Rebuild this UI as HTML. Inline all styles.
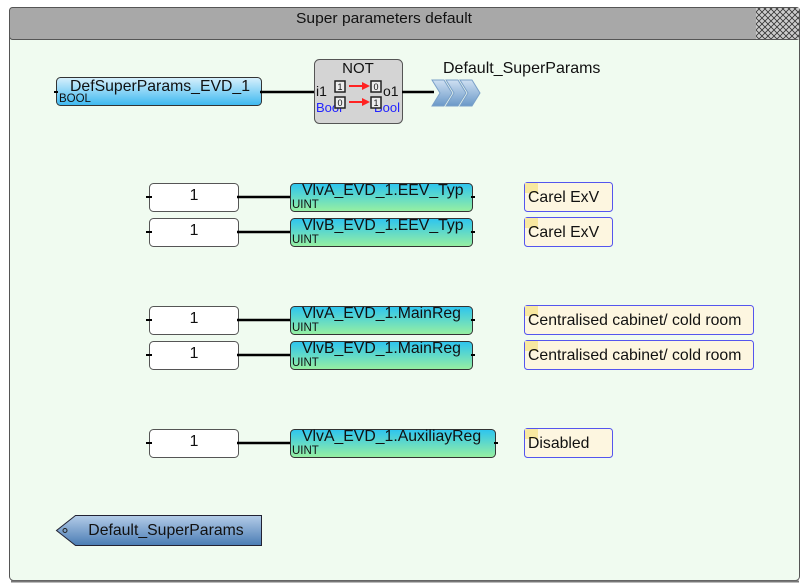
<!DOCTYPE html>
<html><head><meta charset="utf-8"><style>
html,body{margin:0;padding:0;background:#fff;width:808px;height:588px;overflow:hidden}
text{font-family:"Liberation Sans",sans-serif}
</style></head><body>
<svg width="808" height="588" xmlns="http://www.w3.org/2000/svg">
<defs>
<linearGradient id="gb" x1="0" y1="0" x2="0" y2="1"><stop offset="0" stop-color="#d8f0fc"/><stop offset="1" stop-color="#3cb8f0"/></linearGradient>
<linearGradient id="gv" x1="0" y1="0" x2="0" y2="1"><stop offset="0" stop-color="#2cc4f0"/><stop offset="1" stop-color="#98f0a0"/></linearGradient>
<linearGradient id="gc" x1="0" y1="0" x2="0" y2="1"><stop offset="0" stop-color="#b4cce8"/><stop offset="1" stop-color="#4a7cb4"/></linearGradient>
<linearGradient id="gch" x1="0" y1="0" x2="0" y2="1"><stop offset="0" stop-color="#cfe0f2"/><stop offset="1" stop-color="#6a98c8"/></linearGradient>
<pattern id="hatch" width="6" height="6" patternUnits="userSpaceOnUse"><rect width="6" height="6" fill="#ccc"/><path d="M0 0L6 6M6 0L0 6" stroke="#333" stroke-width="0.8"/></pattern>
</defs>
<rect x="9.5" y="7.5" width="790" height="573" rx="4" fill="#f0fbf0" stroke="#555"/>
<line x1="11" y1="581.5" x2="799" y2="581.5" stroke="#777" stroke-width="2"/>
<rect x="9.5" y="7.5" width="790" height="32" rx="3" fill="#a8a8a8" stroke="#555"/>
<rect x="756" y="8" width="43" height="31" fill="url(#hatch)"/>
<text x="384" y="23" font-size="15" text-anchor="middle" fill="#111" textLength="176" lengthAdjust="spacingAndGlyphs">Super parameters default</text>

<g font-size="15.8" fill="#111">
<rect x="56.5" y="77.5" width="205" height="28" rx="4" fill="url(#gb)" stroke="#333"/>
<text x="70" y="91">DefSuperParams_EVD_1</text>
<text x="59" y="102" font-size="11.5">BOOL</text>
<line x1="54" y1="92" x2="58" y2="92" stroke="#000" stroke-width="2"/>
<line x1="260" y1="92" x2="316" y2="92" stroke="#000" stroke-width="2.5"/>

<rect x="314.5" y="59.5" width="88" height="64" rx="5" fill="#d4d4d4" stroke="#555"/>
<text x="358" y="73" font-size="15" text-anchor="middle">NOT</text>
<text x="316" y="96" font-size="14">i1</text>
<text x="383" y="96" font-size="14">o1</text>
<text x="316" y="112" font-size="13" fill="#22f">Bool</text>
<text x="374" y="112" font-size="13" fill="#22f">Bool</text>
<rect x="335" y="81" width="10" height="11" fill="#eee" stroke="#222" stroke-width="1.5"/><rect x="335" y="97" width="10" height="11" fill="#eee" stroke="#222" stroke-width="1.5"/>
<rect x="371" y="81" width="10" height="11" fill="#eee" stroke="#222" stroke-width="1.5"/><rect x="371" y="97" width="10" height="11" fill="#eee" stroke="#222" stroke-width="1.5"/>
<text x="340" y="90" font-size="9" text-anchor="middle">1</text><text x="340" y="106" font-size="9" text-anchor="middle">0</text>
<text x="376" y="90" font-size="9" text-anchor="middle">0</text><text x="376" y="106" font-size="9" text-anchor="middle">1</text>
<path d="M349 86H365" stroke="#f22" stroke-width="2"/><path d="M362 82L370 86L362 90Z" fill="#f22"/>
<path d="M349 102H365" stroke="#f22" stroke-width="2"/><path d="M362 98L370 102L362 106Z" fill="#f22"/>
<line x1="402" y1="92" x2="434" y2="92" stroke="#000" stroke-width="2.5"/>
<g fill="url(#gch)" stroke="#7aa0c8">
<path d="M432 80H444L452 93L444 106H432L440 93Z"/>
<path d="M446 80H458L466 93L458 106H446L454 93Z"/>
<path d="M460 80H472L480 93L472 106H460L468 93Z"/>
</g>
<text x="443" y="73" font-size="16">Default_SuperParams</text>

<g>
<rect x="149.5" y="183.5" width="89" height="28" rx="4" fill="#fff" stroke="#555"/>
<text x="194" y="200" text-anchor="middle">1</text>
<line x1="146" y1="197" x2="152" y2="197" stroke="#000" stroke-width="2"/>
<line x1="237" y1="197" x2="292" y2="197" stroke="#000" stroke-width="2.5"/>
<rect x="290.5" y="183.5" width="182" height="28" rx="4" fill="url(#gv)" stroke="#333"/>
<text x="302" y="195">VlvA_EVD_1.EEV_Typ</text>
<text x="292" y="208" font-size="11.5">UINT</text>
<line x1="471" y1="197" x2="475" y2="197" stroke="#000" stroke-width="2"/>
<rect x="524.5" y="182.5" width="88" height="29" rx="3" fill="#fdf6e0" stroke="#5555ee"/>
<rect x="525" y="183" width="13" height="10" fill="#f8e8a0"/>
<text x="528" y="202">Carel ExV</text>
</g>
<g transform="translate(0,35)">
<rect x="149.5" y="183.5" width="89" height="28" rx="4" fill="#fff" stroke="#555"/>
<text x="194" y="200" text-anchor="middle">1</text>
<line x1="146" y1="197" x2="152" y2="197" stroke="#000" stroke-width="2"/>
<line x1="237" y1="197" x2="292" y2="197" stroke="#000" stroke-width="2.5"/>
<rect x="290.5" y="183.5" width="182" height="28" rx="4" fill="url(#gv)" stroke="#333"/>
<text x="302" y="195">VlvB_EVD_1.EEV_Typ</text>
<text x="292" y="208" font-size="11.5">UINT</text>
<line x1="471" y1="197" x2="475" y2="197" stroke="#000" stroke-width="2"/>
<rect x="524.5" y="182.5" width="88" height="29" rx="3" fill="#fdf6e0" stroke="#5555ee"/>
<rect x="525" y="183" width="13" height="10" fill="#f8e8a0"/>
<text x="528" y="202">Carel ExV</text>
</g>
<g transform="translate(0,123)">
<rect x="149.5" y="183.5" width="89" height="28" rx="4" fill="#fff" stroke="#555"/>
<text x="194" y="200" text-anchor="middle">1</text>
<line x1="146" y1="197" x2="152" y2="197" stroke="#000" stroke-width="2"/>
<line x1="237" y1="197" x2="292" y2="197" stroke="#000" stroke-width="2.5"/>
<rect x="290.5" y="183.5" width="182" height="28" rx="4" fill="url(#gv)" stroke="#333"/>
<text x="302" y="195">VlvA_EVD_1.MainReg</text>
<text x="292" y="208" font-size="11.5">UINT</text>
<line x1="471" y1="197" x2="475" y2="197" stroke="#000" stroke-width="2"/>
<rect x="524.5" y="182.5" width="229" height="29" rx="3" fill="#fdf6e0" stroke="#5555ee"/>
<rect x="525" y="183" width="13" height="10" fill="#f8e8a0"/>
<text x="528" y="202">Centralised cabinet/ cold room</text>
</g>
<g transform="translate(0,158)">
<rect x="149.5" y="183.5" width="89" height="28" rx="4" fill="#fff" stroke="#555"/>
<text x="194" y="200" text-anchor="middle">1</text>
<line x1="146" y1="197" x2="152" y2="197" stroke="#000" stroke-width="2"/>
<line x1="237" y1="197" x2="292" y2="197" stroke="#000" stroke-width="2.5"/>
<rect x="290.5" y="183.5" width="182" height="28" rx="4" fill="url(#gv)" stroke="#333"/>
<text x="302" y="195">VlvB_EVD_1.MainReg</text>
<text x="292" y="208" font-size="11.5">UINT</text>
<line x1="471" y1="197" x2="475" y2="197" stroke="#000" stroke-width="2"/>
<rect x="524.5" y="182.5" width="229" height="29" rx="3" fill="#fdf6e0" stroke="#5555ee"/>
<rect x="525" y="183" width="13" height="10" fill="#f8e8a0"/>
<text x="528" y="202">Centralised cabinet/ cold room</text>
</g>
<g transform="translate(0,246)">
<rect x="149.5" y="183.5" width="89" height="28" rx="4" fill="#fff" stroke="#555"/>
<text x="194" y="200" text-anchor="middle">1</text>
<line x1="146" y1="197" x2="152" y2="197" stroke="#000" stroke-width="2"/>
<line x1="237" y1="197" x2="292" y2="197" stroke="#000" stroke-width="2.5"/>
<rect x="290.5" y="183.5" width="205" height="28" rx="4" fill="url(#gv)" stroke="#333"/>
<text x="302" y="195">VlvA_EVD_1.AuxiliayReg</text>
<text x="292" y="208" font-size="11.5">UINT</text>
<line x1="494" y1="197" x2="498" y2="197" stroke="#000" stroke-width="2"/>
<rect x="524.5" y="182.5" width="88" height="29" rx="3" fill="#fdf6e0" stroke="#5555ee"/>
<rect x="525" y="183" width="13" height="10" fill="#f8e8a0"/>
<text x="528" y="202">Disabled</text>
</g>

<path d="M75.5 515.5H261.5V545.5H75.5L56.5 530.5Z" fill="url(#gc)" stroke="#223"/>
<circle cx="65" cy="530.5" r="2" fill="none" stroke="#222"/>
<text x="166" y="535" text-anchor="middle">Default_SuperParams</text>
</g>
</svg>
</body></html>
